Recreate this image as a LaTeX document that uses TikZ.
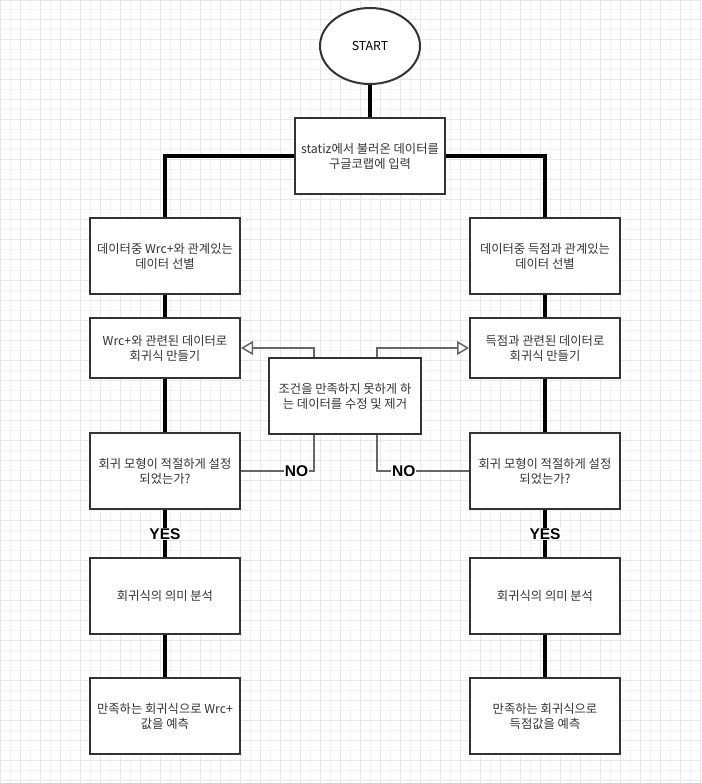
\documentclass[tikz,border=0pt]{standalone}
\usepackage{fontspec}
\setmainfont{Noto Sans CJK KR}
\newfontfamily\lblfont{Liberation Sans}
\usetikzlibrary{shapes.geometric}
\usetikzlibrary{arrows.meta}
\definecolor{gridminor}{HTML}{F2F2FC}
\definecolor{gridmajor}{HTML}{E6E6F8}
\definecolor{edge}{HTML}{333333}
\definecolor{conn}{HTML}{666666}

\begin{document}
\begin{tikzpicture}[x=1pt,y=-1pt,
	block/.style={draw=edge,line width=2pt,fill=white,minimum width=150pt,minimum height=76pt,align=center,text=edge,inner sep=0pt},
	flow/.style={line width=4pt},
	side/.style={draw=conn,line width=1.5pt},
	lbl/.style={fill=white,inner sep=1pt,font=\lblfont\bfseries\fontsize{15.5}{17}\selectfont},
	font=\fontsize{12.3}{15}\selectfont]
	\useasboundingbox (0,0) rectangle (701,783);
	\fill[white] (0,0) rectangle (701,783);
	\draw[gridminor,line width=1pt] (0,0) grid[step=10pt] (701,783);
	\draw[gridmajor,line width=1pt] (0,0) grid[step=20pt] (701,783);
	% top
	\draw (370,46) node[ellipse,draw=edge,line width=2pt,fill=white,minimum width=100pt,minimum height=76pt] (start) {START};
	\draw (370,156) node[block] (load) {statiz에서 불러온 데이터를\\구글코랩에 입력};
	% left column
	\draw (165,256) node[block] (wsel) {데이터중 Wrc+와 관계있는\\데이터 선별};
	\draw (165,348) node[block,minimum height=60pt] (wreg) {Wrc+와 관련된 데이터로\\회귀식 만들기};
	\draw (165,471) node[block] (wchk) {회귀 모형이 적절하게 설정\\되었는가?};
	\draw (165,596) node[block] (wana) {회귀식의 의미 분석};
	\draw (165,716) node[block] (wpre) {만족하는 회귀식으로 Wrc+\\값을 예측};
	% right column
	\draw (545,256) node[block] (ssel) {데이터중 득점과 관계있는\\데이터 선별};
	\draw (545,348) node[block,minimum height=60pt] (sreg) {득점과 관련된 데이터로\\회귀식 만들기};
	\draw (545,471) node[block] (schk) {회귀 모형이 적절하게 설정\\되었는가?};
	\draw (545,596) node[block] (sana) {회귀식의 의미 분석};
	\draw (545,716) node[block] (spre) {만족하는 회귀식으로\\득점값을 예측};
	% middle
	\draw (345,396) node[block,minimum width=152pt] (fix) {조건을 만족하지 못하게 하\\는 데이터를 수정 및 제거};

	\draw[flow] (start) -- (load);
	\draw[flow] (load.west) -| (wsel.north);
	\draw[flow] (load.east) -| (ssel.north);
	\draw[flow] (wsel) -- (wreg); \draw[flow] (wreg) -- (wchk);
	\draw[flow] (ssel) -- (sreg); \draw[flow] (sreg) -- (schk);
	\draw[flow] (wchk) -- (wana) node[midway,lbl,yshift=-0.5pt]{YES};
	\draw[flow] (schk) -- (sana) node[midway,lbl,yshift=-0.5pt]{YES};
	\draw[flow] (wana) -- (wpre); \draw[flow] (sana) -- (spre);
	\draw[side,-{Triangle[fill=white,length=12pt,width=14pt]}] ([xshift=-31pt]fix.north) |- (wreg.east);
	\draw[side,-{Triangle[fill=white,length=12pt,width=14pt]}] ([xshift=32pt]fix.north) |- (sreg.west);
	\draw[side] (wchk.east) -| ([xshift=-31pt]fix.south) node[pos=0.38,lbl]{NO};
	\draw[side] (schk.west) -| ([xshift=32pt]fix.south) node[pos=0.355,lbl]{NO};
\end{tikzpicture}
\end{document}
